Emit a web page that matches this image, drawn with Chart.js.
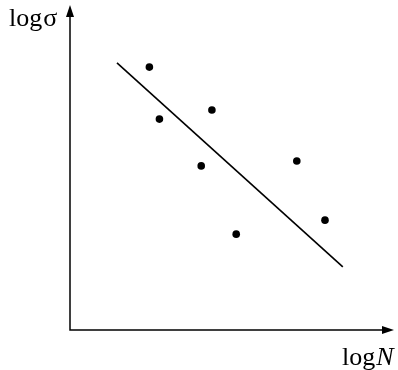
<!DOCTYPE html>
<html>
<head>
<meta charset="utf-8">
<script src="https://cdn.jsdelivr.net/npm/chart.js@4"></script>
<style>
  html, body { margin: 0; padding: 0; background: #fff; }
  #wrap { width: 398px; height: 370px; }
</style>
</head>
<body>
<div id="wrap"><canvas id="chart" width="398" height="370"></canvas></div>
<script>
// log N values of the measured points
const pointX = [2.45, 2.76, 4.38, 4.05, 5.13, 7.0, 7.87];
// log sigma values of the measured points
const pointY = [8.09, 6.49, 6.77, 5.05, 2.95, 5.20, 3.38];
// fitted line end points
const lineX = [1.45, 8.42];
const lineY = [8.22, 1.94];

const axisLabelX = 'N';
const axisLabelY = 'σ';

// Оси со стрелками и подписи
const arrowAxes = {
    id: 'arrowAxes',
    afterDraw(chart) {
        const ctx = chart.ctx;
        const a = chart.chartArea;
        ctx.save();
        ctx.strokeStyle = '#000';
        ctx.fillStyle = '#000';
        ctx.lineWidth = 1.5;
        ctx.beginPath();
        ctx.moveTo(a.left, a.top + 6);
        ctx.lineTo(a.left, a.bottom);
        ctx.lineTo(a.right - 6, a.bottom);
        ctx.stroke();
        // стрелка вверх
        ctx.beginPath();
        ctx.moveTo(a.left, a.top);
        ctx.lineTo(a.left - 4, a.top + 12);
        ctx.lineTo(a.left + 4, a.top + 12);
        ctx.closePath();
        ctx.fill();
        // стрелка вправо
        ctx.beginPath();
        ctx.moveTo(a.right, a.bottom);
        ctx.lineTo(a.right - 12, a.bottom - 4);
        ctx.lineTo(a.right - 12, a.bottom + 4);
        ctx.closePath();
        ctx.fill();

        ctx.textBaseline = 'alphabetic';
        ctx.font = '26px "Liberation Serif", serif';
        ctx.fillText('log', 9, 26);
        let w = ctx.measureText('log').width;
        ctx.fillText(axisLabelY, 9 + w + 1, 26);

        ctx.fillText('log', 342, 365);
        w = ctx.measureText('log').width;
        ctx.font = 'italic 26px "Liberation Serif", serif';
        ctx.fillText(axisLabelX, 342 + w + 1, 365);
        ctx.restore();
    }
};

function initChart() {
    new Chart(document.getElementById('chart'), {
        type: 'scatter',
        data: {
            datasets: [{
                data: pointX.map((x, i) => ({ x: x, y: pointY[i] })),
                backgroundColor: '#000',
                borderColor: '#000',
                pointRadius: 3.8,
                pointBorderWidth: 0
            }, {
                data: lineX.map((x, i) => ({ x: x, y: lineY[i] })),
                showLine: true,
                borderColor: '#000',
                borderWidth: 1.6,
                pointRadius: 0
            }]
        },
        options: {
            responsive: false,
            animation: false,
            layout: { padding: { left: 70, right: 3, top: 5, bottom: 40 } },
            plugins: { legend: { display: false }, tooltip: { enabled: false } },
            scales: {
                x: { display: false, min: 0, max: 10 },
                y: { display: false, min: 0, max: 10 }
            }
        },
        plugins: [arrowAxes]
    });
}

document.addEventListener('DOMContentLoaded', initChart);
</script>
</body>
</html>
